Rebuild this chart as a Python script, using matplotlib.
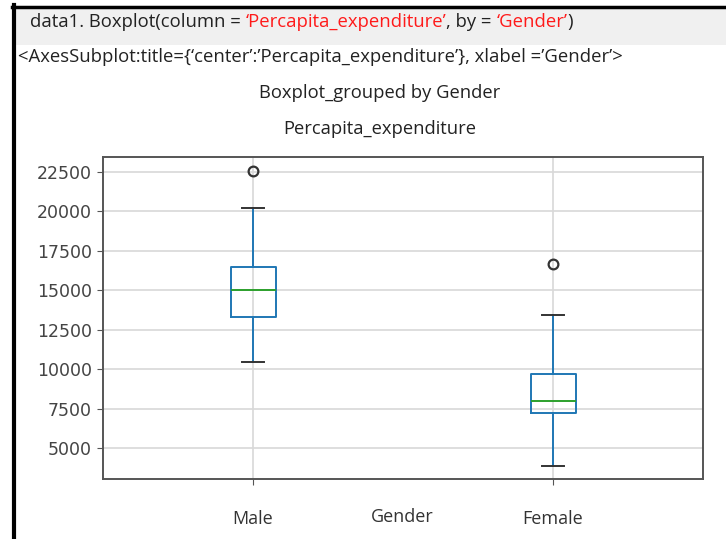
import matplotlib
matplotlib.use("Agg")
import matplotlib.pyplot as plt
from matplotlib.patches import Rectangle
from matplotlib.lines import Line2D

# ---- data ----
categories = ["Male", "Female"]
q1 = [13300, 7250]
median = [15000, 8000]
q3 = [16500, 9700]
whisker_low = [10450, 3900]
whisker_high = [20200, 13450]
outliers = [[22550], [16700]]
yticks = [5000, 7500, 10000, 12500, 15000, 17500, 20000, 22500]

W, H = 726, 539
fig = plt.figure(figsize=(W / 100, H / 100), dpi=100)
fig.patch.set_facecolor("white")

# notebook-like frame
fig.patches.append(Rectangle((16 / W, 1 - 45 / H), 1, 36 / H, transform=fig.transFigure,
                             facecolor="#f0f0f0", edgecolor="none", zorder=0))
fig.add_artist(Line2D([13.5 / W, 13.5 / W], [0, 1 - 5 / H], transform=fig.transFigure,
                      color="black", lw=3))
fig.add_artist(Line2D([12 / W, 1], [1 - 6.5 / H, 1 - 6.5 / H], transform=fig.transFigure,
                      color="black", lw=2.5))

ax = fig.add_axes([103 / W, 60 / H, 600 / W, 322 / H])

stats = []
for i in range(len(categories)):
    stats.append(dict(label=categories[i], q1=q1[i], med=median[i], q3=q3[i],
                      whislo=whisker_low[i], whishi=whisker_high[i], fliers=outliers[i]))

ax.bxp(stats, positions=[1, 2], widths=0.15,
       boxprops=dict(color="#1f77b4", lw=1.4),
       whiskerprops=dict(color="#1f77b4", lw=1.4),
       capprops=dict(color="#333333", lw=1.4),
       medianprops=dict(color="#2ca02c", lw=1.4),
       flierprops=dict(marker="o", markerfacecolor="none", markeredgecolor="#333333",
                       markersize=7, markeredgewidth=1.6))

ax.set_xlim(0.5, 2.5)
ax.set_ylim(3050, 23450)
ax.set_yticks(yticks)
ax.set_yticklabels([str(v) for v in yticks], fontsize=12.5, color="#444444",
                   family="DejaVu Sans")
ax.set_xticks([1, 2])
ax.set_xticklabels(categories, fontsize=13, family="Open Sans", color="#333333")
ax.tick_params(axis="x", pad=18, length=4, color="#555555")
ax.tick_params(axis="y", length=4, color="#555555", pad=4)
ax.grid(True, color="#d8d8d8", lw=1.2)
ax.set_axisbelow(True)
for s in ax.spines.values():
    s.set_color("#555555")
    s.set_linewidth(1.4)

ax.set_xlabel("Gender", fontsize=13, family="Open Sans", color="#333333")
ax.xaxis.set_label_coords((402 - 103) / 600, -(508 - 479) / 322)

fig.text(380 / W, 1 - 93 / H, "Boxplot_grouped by Gender", ha="center", va="center",
         fontsize=13.2, family="Open Sans", color="#222222")
fig.text(380 / W, 1 - 129 / H, "Percapita_expenditure", ha="center", va="center",
         fontsize=13.2, family="Open Sans", color="#222222")

# code line with coloured strings
pieces = [("data1. Boxplot(column = ", "#222222"), ("\u2018Percapita_expenditure\u2019", "#ff1a1a"),
          (", by = ", "#222222"), ("\u2018Gender\u2019", "#ff1a1a"), (")", "#222222")]
fig.canvas.draw()
renderer = fig.canvas.get_renderer()
x = 30 / W
for txt, col in pieces:
    t = fig.text(x, 1 - 22 / H, txt, ha="left", va="center", fontsize=13.3,
                 family="Open Sans", color=col)
    bb = t.get_window_extent(renderer)
    x = bb.x1 / W

fig.text(18 / W, 1 - 57 / H,
         "<AxesSubplot:title={\u2018center\u2019:\u2019Percapita_expenditure\u2019}, xlabel =\u2019Gender\u2019>",
         ha="left", va="center", fontsize=13.3, family="Open Sans", color="#222222")

fig.savefig("out.png", dpi=100)
